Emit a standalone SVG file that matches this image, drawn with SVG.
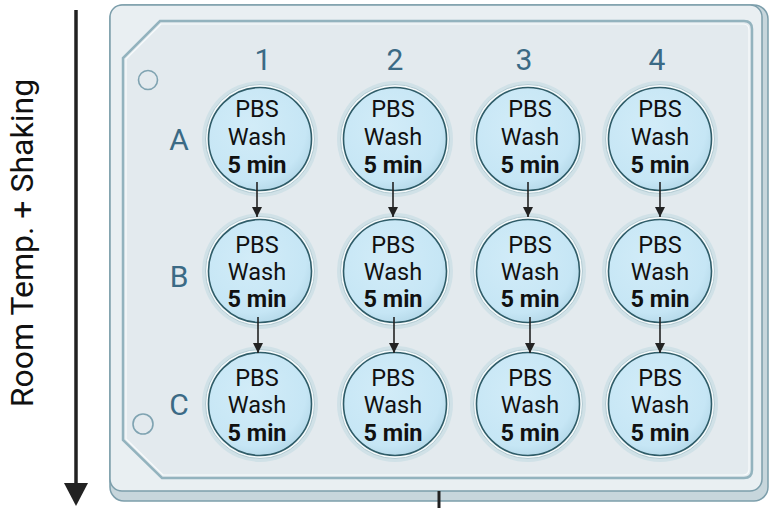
<svg xmlns="http://www.w3.org/2000/svg" width="769" height="508" viewBox="0 0 769 508">
  <style>
    .well-halo { fill: #d0e1e7; }
    .well-lip { fill: #f5fafb; stroke: #b3cbd3; stroke-width: 1; }
    .well-body { fill: url(#wellFill); stroke: #2f5c68; stroke-width: 1.6; }
    .wt { font-family: Roboto, "Liberation Sans", sans-serif; font-size: 23.5px; fill: #111; text-anchor: middle; }
    .wt-b { font-weight: bold; }
    .lbl { font-family: Roboto, "Liberation Sans", sans-serif; font-size: 30px; fill: #3b6a85; text-anchor: middle; }
    .conn { stroke: #222; stroke-width: 1.6; fill: none; marker-end: url(#arrow); }
  </style>
  <defs>
    <radialGradient id="wellFill" cx="0.42" cy="0.38" r="0.62">
      <stop offset="0" stop-color="#d2ecf8"/>
      <stop offset="0.85" stop-color="#c6e6f5"/>
      <stop offset="1" stop-color="#b9dcec"/>
    </radialGradient>
    <marker id="arrow" viewBox="0 0 10 10" refX="10" refY="5" markerWidth="10" markerHeight="10" markerUnits="userSpaceOnUse" orient="auto">
      <path d="M0,0 L10,5 L0,10 Z" fill="#222"/>
    </marker>
    <g id="well">
      <circle class="well-halo" r="58"/>
      <circle class="well-lip" r="54.5"/>
      <circle class="well-body" r="51.5"/>
    </g>
  </defs>

  <!-- process direction -->
  <g id="time-axis">
    <line x1="76" y1="10" x2="76" y2="485" stroke="#222" stroke-width="3.5"/>
    <path d="M64,483 L88,483 L76,506 Z" fill="#222"/>
    <text transform="translate(33,243) rotate(-90)" font-family="Roboto, 'Liberation Sans', sans-serif" font-size="32" fill="#111" text-anchor="middle">Room Temp. + Shaking</text>
  </g>

  <!-- 12-well plate body -->
  <g id="plate">
    <rect x="110" y="5" width="658" height="496" rx="14" fill="#c7d6dc" stroke="#7c9eab" stroke-width="1.5"/>
    <rect x="110" y="5" width="652" height="486" rx="12" fill="#e9eff2" stroke="#7c9eab" stroke-width="1.5"/>
    <path d="M160,21 L744,21 Q752,21 752,29 L752,470 Q752,478 744,478 L162,478 L123,440 L123,58 Z" fill="#e3eaee" stroke="#93b3be" stroke-width="2.5"/>
    <path d="M161,24 L743,24 Q749,24 749,30 L749,469 Q749,475 743,475 L163,475 L126,439 L126,59 Z" fill="none" stroke="#f8fbfc" stroke-width="1.2"/>
    <circle cx="148" cy="80" r="9.5" fill="none" stroke="#7fa3b1" stroke-width="1.6"/>
    <circle cx="143" cy="424" r="10" fill="none" stroke="#7fa3b1" stroke-width="1.6"/>
    <line x1="439" y1="491" x2="439" y2="508" stroke="#222" stroke-width="3"/>
  </g>

  <!-- column and row labels -->
  <g id="labels">
    <text class="lbl" x="263" y="70">1</text>
    <text class="lbl" x="395" y="70">2</text>
    <text class="lbl" x="524" y="70">3</text>
    <text class="lbl" x="657" y="70">4</text>
    <text class="lbl" x="179" y="150">A</text>
    <text class="lbl" x="179" y="287">B</text>
    <text class="lbl" x="179" y="415">C</text>
  </g>

  <!-- row A -->
  <g id="well-A1"><use href="#well" x="260" y="139"/><text class="wt" x="257" y="117">PBS</text><text class="wt" x="257" y="145">Wash</text><text class="wt wt-b" x="257" y="173">5 min</text></g>
  <g id="well-A2"><use href="#well" x="395" y="139"/><text class="wt" x="393" y="117">PBS</text><text class="wt" x="393" y="145">Wash</text><text class="wt wt-b" x="393" y="173">5 min</text></g>
  <g id="well-A3"><use href="#well" x="528" y="139"/><text class="wt" x="530" y="117">PBS</text><text class="wt" x="530" y="145">Wash</text><text class="wt wt-b" x="530" y="173">5 min</text></g>
  <g id="well-A4"><use href="#well" x="660" y="139"/><text class="wt" x="660" y="117">PBS</text><text class="wt" x="660" y="145">Wash</text><text class="wt wt-b" x="660" y="173">5 min</text></g>

  <!-- row B -->
  <g id="well-B1"><use href="#well" x="260" y="271"/><text class="wt" x="257" y="253">PBS</text><text class="wt" x="257" y="280">Wash</text><text class="wt wt-b" x="257" y="307">5 min</text></g>
  <g id="well-B2"><use href="#well" x="395" y="271"/><text class="wt" x="393" y="253">PBS</text><text class="wt" x="393" y="280">Wash</text><text class="wt wt-b" x="393" y="307">5 min</text></g>
  <g id="well-B3"><use href="#well" x="528" y="271"/><text class="wt" x="530" y="253">PBS</text><text class="wt" x="530" y="280">Wash</text><text class="wt wt-b" x="530" y="307">5 min</text></g>
  <g id="well-B4"><use href="#well" x="660" y="271"/><text class="wt" x="660" y="253">PBS</text><text class="wt" x="660" y="280">Wash</text><text class="wt wt-b" x="660" y="307">5 min</text></g>

  <!-- row C -->
  <g id="well-C1"><use href="#well" x="260" y="404"/><text class="wt" x="257" y="386">PBS</text><text class="wt" x="257" y="413">Wash</text><text class="wt wt-b" x="257" y="441">5 min</text></g>
  <g id="well-C2"><use href="#well" x="395" y="404"/><text class="wt" x="393" y="386">PBS</text><text class="wt" x="393" y="413">Wash</text><text class="wt wt-b" x="393" y="441">5 min</text></g>
  <g id="well-C3"><use href="#well" x="528" y="404"/><text class="wt" x="530" y="386">PBS</text><text class="wt" x="530" y="413">Wash</text><text class="wt wt-b" x="530" y="441">5 min</text></g>
  <g id="well-C4"><use href="#well" x="660" y="404"/><text class="wt" x="660" y="386">PBS</text><text class="wt" x="660" y="413">Wash</text><text class="wt wt-b" x="660" y="441">5 min</text></g>

  <!-- wash sequence arrows -->
  <g id="connectors">
    <line class="conn" x1="257" y1="182" x2="257" y2="217"/>
    <line class="conn" x1="393" y1="182" x2="393" y2="217"/>
    <line class="conn" x1="528" y1="182" x2="528" y2="217"/>
    <line class="conn" x1="660" y1="182" x2="660" y2="217"/>
    <line class="conn" x1="258" y1="317" x2="258" y2="353"/>
    <line class="conn" x1="394" y1="317" x2="394" y2="353"/>
    <line class="conn" x1="530" y1="317" x2="530" y2="353"/>
    <line class="conn" x1="660" y1="317" x2="660" y2="353"/>
  </g>
</svg>
